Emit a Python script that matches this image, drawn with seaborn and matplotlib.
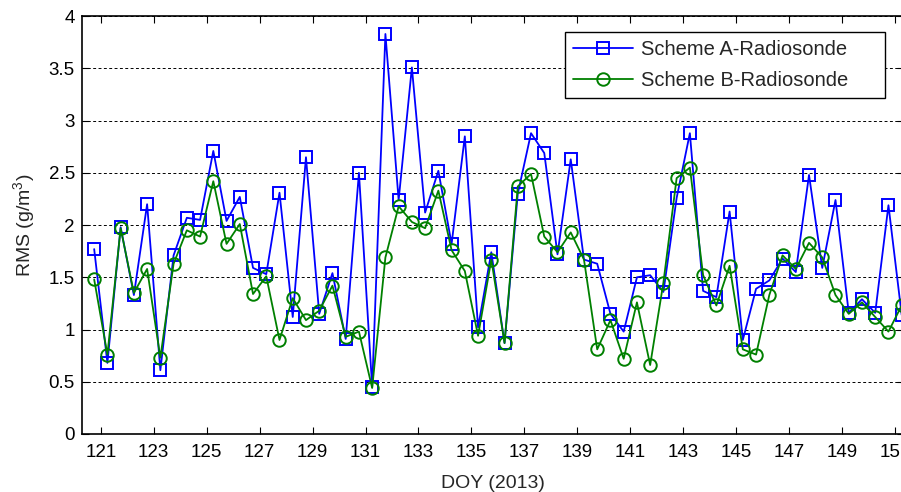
import numpy as np
import pandas as pd
import matplotlib
matplotlib.use("Agg")
import matplotlib.pyplot as plt
import seaborn as sns

sns.set_theme(style="white")
plt.rcParams['font.family'] = ['Liberation Sans', 'DejaVu Sans']
plt.rcParams['mathtext.fontset'] = 'custom'
plt.rcParams['mathtext.rm'] = 'Liberation Sans'
plt.rcParams['mathtext.it'] = 'Liberation Sans:italic'

doy = [120.75 + 0.5 * i for i in range(62)]
scheme_a = [1.77, 0.68, 1.98, 1.33, 2.20, 0.61, 1.71, 2.07, 2.05, 2.71,
            2.04, 2.27, 1.59, 1.53, 2.31, 1.12, 2.65, 1.15, 1.54, 0.91,
            2.50, 0.45, 3.83, 2.24, 3.51, 2.12, 2.52, 1.82, 2.85, 1.02,
            1.74, 0.87, 2.30, 2.88, 2.69, 1.72, 2.63, 1.67, 1.63, 1.15,
            0.98, 1.50, 1.52, 1.36, 2.26, 2.88, 1.37, 1.31, 2.13, 0.90,
            1.39, 1.47, 1.68, 1.55, 2.48, 1.59, 2.24, 1.16, 1.29, 1.16,
            2.19, 1.14]
scheme_b = [1.48, 0.76, 1.97, 1.35, 1.58, 0.73, 1.63, 1.95, 1.89, 2.42,
            1.82, 2.01, 1.34, 1.51, 0.90, 1.30, 1.09, 1.18, 1.42, 0.93,
            0.98, 0.44, 1.69, 2.18, 2.03, 1.97, 2.33, 1.76, 1.56, 0.94,
            1.67, 0.87, 2.37, 2.49, 1.89, 1.74, 1.93, 1.67, 0.81, 1.09,
            0.72, 1.26, 0.66, 1.45, 2.45, 2.55, 1.52, 1.23, 1.61, 0.81,
            0.76, 1.33, 1.71, 1.58, 1.83, 1.69, 1.33, 1.15, 1.26, 1.12,
            0.98, 1.23]
labels = ["Scheme A-Radiosonde", "Scheme B-Radiosonde"]
xticks = list(range(121, 152, 2))
yticks = [0, 0.5, 1, 1.5, 2, 2.5, 3, 3.5, 4]

df_a = pd.DataFrame({"doy": doy, "rms": scheme_a})
df_b = pd.DataFrame({"doy": doy, "rms": scheme_b})

fig = plt.figure(figsize=(9.01, 4.92), dpi=100)
ax = fig.add_axes([0.0907, 0.118, 0.913, 0.849])

sns.lineplot(data=df_a, x="doy", y="rms", ax=ax, color=(0, 0, 1), marker='s',
             markersize=9, markerfacecolor='none', markeredgecolor=(0, 0, 1),
             markeredgewidth=1.4, linewidth=1.3, label=labels[0])
sns.lineplot(data=df_b, x="doy", y="rms", ax=ax, color=(0, 0.5, 0), marker='o',
             markersize=9, markerfacecolor='none', markeredgecolor=(0, 0.5, 0),
             markeredgewidth=1.4, linewidth=1.3, label=labels[1])

ax.set_xlim(120.28, 151.35)
ax.set_ylim(0, 4)
ax.set_xticks(xticks)
ax.set_xticklabels([str(t) for t in xticks])
ax.set_yticks(yticks)
ax.set_yticklabels(['0', '0.5', '1', '1.5', '2', '2.5', '3', '3.5', '4'])
ax.yaxis.grid(True, linestyle=(0, (3, 2.5)), color='black', linewidth=0.7)
ax.xaxis.grid(False)
ax.tick_params(axis='both', direction='in', length=5, width=0.8, colors='black',
               labelsize=13.5, top=True, right=True, bottom=True, left=True)
ax.tick_params(axis='x', pad=7)
ax.tick_params(axis='y', pad=5)
for s in ax.spines.values():
    s.set_color('black')
    s.set_linewidth(1.2)
ax.set_xlabel('DOY (2013)', fontsize=14, labelpad=10)
ax.set_ylabel(r'RMS (g/m$^3$)', fontsize=14, labelpad=8)

leg = ax.legend(loc='upper left', bbox_to_anchor=(0.5875, 0.8044, 0.389, 0.158),
                mode='expand', fontsize=14.5,
                frameon=True, fancybox=False, framealpha=1, edgecolor='black',
                handlelength=3.0, borderpad=0.38, labelspacing=0.62,
                handletextpad=0.4, borderaxespad=0)
leg.get_frame().set_linewidth(1.0)

fig.savefig('out.png', dpi=100)
